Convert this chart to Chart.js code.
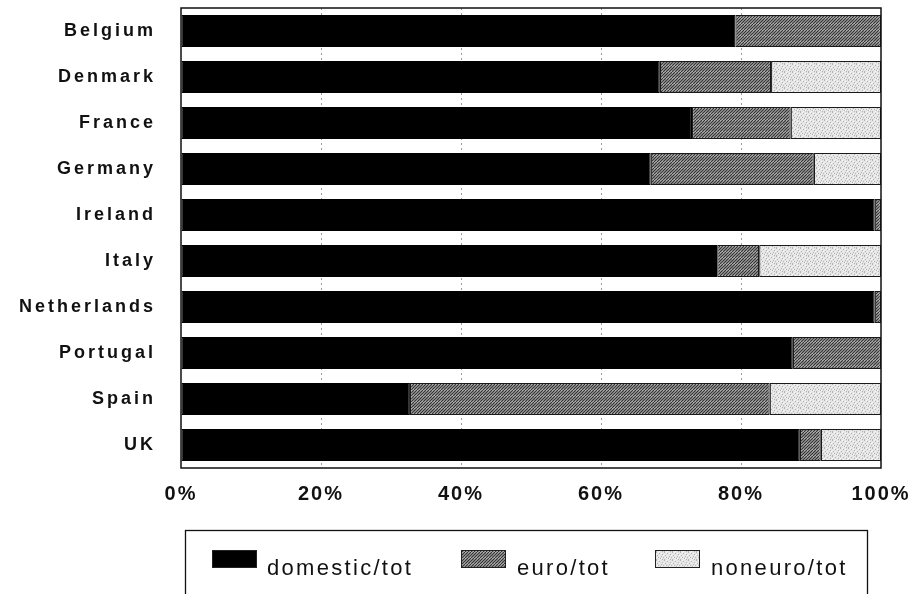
<!DOCTYPE html>
<html>
<head>
<meta charset="utf-8">
<title>Domestic, euro and non-euro shares by country</title>
<script src="https://cdn.jsdelivr.net/npm/chart.js@4.4.1/dist/chart.umd.min.js"></script>
<style>
  html, body { margin: 0; padding: 0; background: #ffffff; }
  #wrap { width: 918px; height: 594px; }
  canvas { display: block; }
</style>
</head>
<body>
<div id="wrap"><canvas id="c" width="918" height="594"></canvas></div>
<script>
// Shares of total (%), one entry per country
const countries = ['Belgium', 'Denmark', 'France', 'Germany', 'Ireland', 'Italy', 'Netherlands', 'Portugal', 'Spain', 'UK'];
const domesticShare = [79.2, 68.4, 73.0, 67.1, 99.1, 76.6, 99.1, 87.4, 32.7, 88.4];
const euroShare     = [20.8, 15.9, 14.1, 23.3,  0.9,  6.0,  0.9, 12.6, 51.4,  3.0];
const noneuroShare  = [ 0.0, 15.7, 12.9,  9.6,  0.0, 17.4,  0.0,  0.0, 15.9,  8.6];
const seriesNames = ['domestic/tot', 'euro/tot', 'noneuro/tot'];
const percentTicks = [0, 20, 40, 60, 80, 100];

const canvas = document.getElementById('c');
const ctx2d = canvas.getContext('2d');

// Diagonal hatch fill
function makeHatch() {
  const t = document.createElement('canvas');
  t.width = 6; t.height = 6;
  const g = t.getContext('2d');
  g.fillStyle = '#cfcfcf';
  g.fillRect(0, 0, 6, 6);
  g.strokeStyle = '#353535';
  g.lineWidth = 1.25;
  for (let k = -6; k <= 12; k += 3) {
    g.beginPath();
    g.moveTo(k, 6);
    g.lineTo(k + 6, 0);
    g.stroke();
  }
  return ctx2d.createPattern(t, 'repeat');
}

// Light stippled fill
function makeStipple() {
  const t = document.createElement('canvas');
  t.width = 8; t.height = 8;
  const g = t.getContext('2d');
  g.fillStyle = '#e4e4e4';
  g.fillRect(0, 0, 8, 8);
  const dark = [[0,0],[3,1],[6,2],[1,3],[5,4],[2,5],[7,5],[4,6],[0,7],[6,7]];
  const light = [[2,0],[5,1],[0,2],[3,3],[7,3],[1,5],[5,6],[3,7]];
  g.fillStyle = '#b4b4b4';
  dark.forEach(([x, y]) => g.fillRect(x, y, 1, 1));
  g.fillStyle = '#f6f6f6';
  light.forEach(([x, y]) => g.fillRect(x, y, 1, 1));
  return ctx2d.createPattern(t, 'repeat');
}

const fills = ['#000000', makeHatch(), makeStipple()];

// Per-axis letter spacing for tick labels
const labelSpacing = { x: '2px', y: '3px' };
const spacingPlugin = {
  id: 'labelSpacing',
  beforeDraw(chart) {
    Object.values(chart.scales).forEach(s => {
      if (s._spacedLabels) return;
      const orig = s.drawLabels.bind(s);
      s.drawLabels = (area) => {
        const c = s.ctx;
        const prev = c.letterSpacing;
        c.letterSpacing = labelSpacing[s.id] || '0px';
        orig(area);
        c.letterSpacing = prev;
      };
      s._spacedLabels = true;
    });
  }
};

// Plot frame
const framePlugin = {
  id: 'frame',
  afterDatasetsDraw(chart) {
    const { ctx, chartArea: a } = chart;
    ctx.save();
    ctx.strokeStyle = '#111111';
    ctx.lineWidth = 1.5;
    ctx.strokeRect(a.left, a.top, a.right - a.left, a.bottom - a.top);
    ctx.restore();
  }
};

// Boxed legend below the axis
const boxLegendPlugin = {
  id: 'boxLegend',
  afterDraw(chart) {
    const ctx = chart.ctx;
    const swatchX = [212, 461, 655];
    const textX = [267, 517, 711];
    ctx.save();
    ctx.strokeStyle = '#111111';
    ctx.lineWidth = 1.3;
    ctx.strokeRect(185.5, 530.5, 682, 80);
    chart.data.datasets.forEach((ds, i) => {
      ctx.fillStyle = ds.backgroundColor;
      ctx.fillRect(swatchX[i], 550, 45, 18);
      ctx.strokeStyle = '#222222';
      ctx.lineWidth = 1;
      ctx.strokeRect(swatchX[i] + 0.5, 550.5, 44, 17);
      ctx.fillStyle = '#111111';
      ctx.font = '22px "Liberation Sans", Arial, sans-serif';
      ctx.letterSpacing = '2.3px';
      ctx.textAlign = 'left';
      ctx.textBaseline = 'alphabetic';
      ctx.fillText(ds.label, textX[i], 575);
    });
    ctx.restore();
  }
};

const seriesData = [domesticShare, euroShare, noneuroShare];

new Chart(canvas, {
  type: 'bar',
  data: {
    labels: countries,
    datasets: seriesData.map((d, i) => ({
      label: seriesNames[i],
      data: d,
      backgroundColor: fills[i],
      borderColor: i === 0 ? '#000000' : '#1a1a1a',
      borderWidth: 1.2,
      borderSkipped: false
    }))
  },
  options: {
    indexAxis: 'y',
    responsive: false,
    animation: false,
    devicePixelRatio: 1,
    layout: { autoPadding: false, padding: { top: 8, right: 37, bottom: 0, left: 0 } },
    datasets: { bar: { categoryPercentage: 1, barPercentage: 0.7 } },
    plugins: { legend: { display: false }, tooltip: { enabled: false } },
    scales: {
      x: {
        stacked: true,
        min: 0,
        max: 100,
        afterBuildTicks(s) { s.ticks = percentTicks.map(v => ({ value: v })); },
        ticks: {
          callback: v => v + '%',
          color: '#111111',
          font: { family: '"Liberation Sans", Arial, sans-serif', size: 20, weight: 'bold' },
          padding: 14,
          maxRotation: 0,
          autoSkip: false
        },
        grid: {
          color: c => (c.tick && c.tick.value > 0 && c.tick.value < 100) ? '#9c9c9c' : 'rgba(0,0,0,0)',
          lineWidth: 1,
          drawTicks: false
        },
        border: { display: false, dash: [2, 3] },
        afterFit(s) { s.height = 126; s.paddingLeft = 0; s.paddingRight = 0; }
      },
      y: {
        stacked: true,
        ticks: {
          color: '#111111',
          font: { family: '"Liberation Sans", Arial, sans-serif', size: 18, weight: 'bold' },
          padding: 25,
          autoSkip: false
        },
        grid: { display: false, drawTicks: false },
        border: { display: false },
        afterFit(s) { s.width = 181; s.paddingTop = 0; s.paddingBottom = 0; }
      }
    }
  },
  plugins: [spacingPlugin, framePlugin, boxLegendPlugin]
});
</script>
</body>
</html>
